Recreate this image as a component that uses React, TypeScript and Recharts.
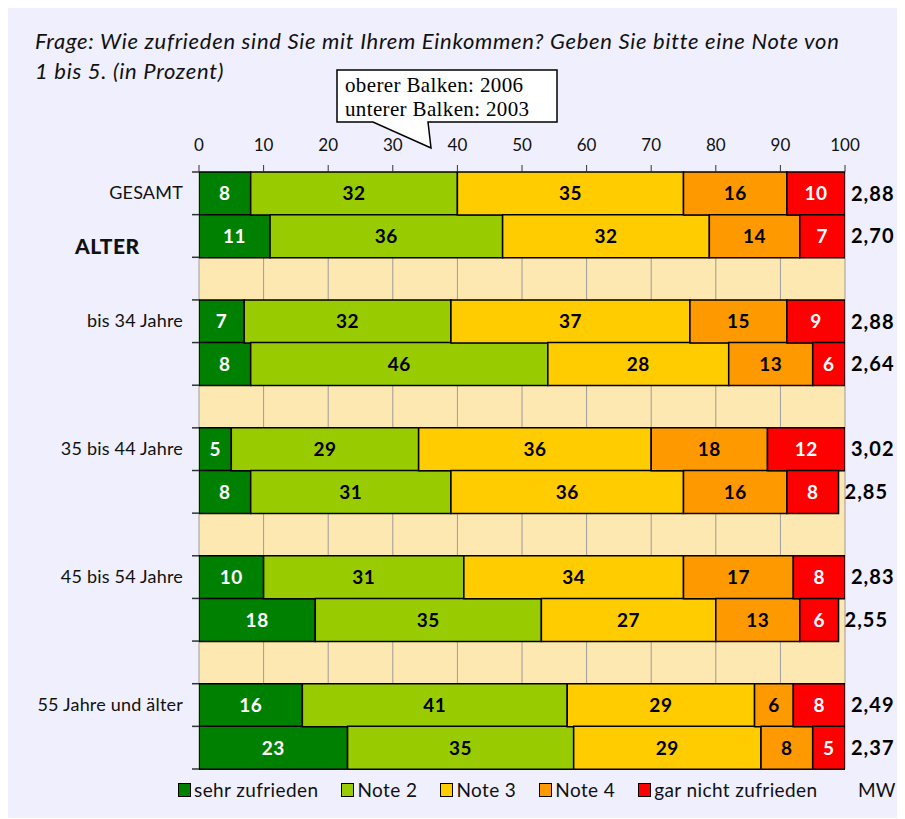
import { BarChart, Bar, XAxis, YAxis, CartesianGrid, LabelList } from 'recharts';

// rows: each group = 2006 bar, 2003 bar, then an empty spacer row
const rowIds = ['g06', 'g03', 's1', 'a06', 'a03', 's2', 'b06', 'b03', 's3', 'c06', 'c03', 's4', 'd06', 'd03'];
const rowLabels = ['GESAMT', 'ALTER', '', 'bis 34 Jahre', '', '', '35 bis 44 Jahre', '', '', '45 bis 54 Jahre', '', '', '55 Jahre und älter', ''];

const sehrZufrieden = [8, 11, null, 7, 8, null, 5, 8, null, 10, 18, null, 16, 23];
const note2 = [32, 36, null, 32, 46, null, 29, 31, null, 31, 35, null, 41, 35];
const note3 = [35, 32, null, 37, 28, null, 36, 36, null, 34, 27, null, 29, 29];
const note4 = [16, 14, null, 15, 13, null, 18, 16, null, 17, 13, null, 6, 8];
const garNicht = [10, 7, null, 9, 6, null, 12, 8, null, 8, 6, null, 8, 5];
const mw = ['2,88', '2,70', null, '2,88', '2,64', null, '3,02', '2,85', null, '2,83', '2,55', null, '2,49', '2,37'];

const xTicks = [0, 10, 20, 30, 40, 50, 60, 70, 80, 90, 100];

const series = [
  { key: 'n1', name: 'sehr zufrieden', color: '#008000', text: '#ffffff' },
  { key: 'n2', name: 'Note 2', color: '#99cc00', text: '#000000' },
  { key: 'n3', name: 'Note 3', color: '#ffcc00', text: '#000000' },
  { key: 'n4', name: 'Note 4', color: '#ff9900', text: '#000000' },
  { key: 'n5', name: 'gar nicht zufrieden', color: '#ff0000', text: '#ffffff' },
];

const data = rowIds.map((id, i) => ({
  id,
  n1: sehrZufrieden[i],
  n2: note2[i],
  n3: note3[i],
  n4: note4[i],
  n5: garNicht[i],
  mw: mw[i],
}));

const FONT = 'Lato, "Open Sans", sans-serif';
const W = 897;
const H = 810;
const PLOT_TOP = 164;
const PLOT_BOTTOM = 761;
const PLOT_LEFT = 191;
const BAND = (PLOT_BOTTOM - PLOT_TOP) / rowIds.length;

function RowTick(props: any) {
  const { y, payload, index } = props;
  const i = rowIds.indexOf(payload.value);
  const label = rowLabels[i];
  const isHeader = label === 'ALTER';
  const x = PLOT_LEFT;
  return (
    <g>
      {index === 0 && <line x1={x - 7} x2={x} y1={y - BAND / 2} y2={y - BAND / 2} stroke="#333" strokeWidth={1.5} />}
      <line x1={x - 7} x2={x} y1={y + BAND / 2} y2={y + BAND / 2} stroke="#333" strokeWidth={1.5} />
      {label && (
        <text
          x={isHeader ? 67 : x - 16}
          y={isHeader ? y + 12 : y}
          dy={6}
          textAnchor={isHeader ? 'start' : 'end'}
          fontFamily={FONT}
          fontSize={isHeader ? 21 : 18}
          fontWeight={isHeader ? 900 : 400}
          letterSpacing={isHeader ? 0.5 : 0.2}
          fill="#111"
        >
          {label}
        </text>
      )}
    </g>
  );
}

export default function App() {
  return (
    <div style={{ position: 'relative', width: W, height: H, background: '#efeffd', fontFamily: FONT }}>
      <div
        style={{
          position: 'absolute',
          left: 27,
          top: 18,
          width: 870,
          fontSize: 22,
          lineHeight: '30px',
          letterSpacing: 0.7,
          fontStyle: 'italic',
          color: '#111',
          whiteSpace: 'nowrap',
        }}
      >
        Frage: Wie zufrieden sind Sie mit Ihrem Einkommen? Geben Sie bitte eine Note von
        <br />
        1 bis 5. (in Prozent)
      </div>

      <BarChart
        width={W}
        height={H}
        data={data}
        layout="vertical"
        barCategoryGap={0}
        margin={{ top: 134, right: 60, bottom: H - PLOT_BOTTOM, left: 0 }}
        style={{ position: 'absolute', left: 0, top: 0 }}
      >
        <CartesianGrid horizontal={false} vertical fill="#fee8b2" stroke="#9c9c9c" fillOpacity={1} />
        <XAxis
          type="number"
          orientation="top"
          domain={[0, 100]}
          ticks={xTicks}
          allowDataOverflow
          height={30}
          axisLine={false}
          tickSize={7}
          tickMargin={14}
          tickLine={{ stroke: '#333' }}
          tick={{ fontSize: 17, fill: '#111', fontFamily: FONT }}
        />
        <YAxis
          type="category"
          dataKey="id"
          width={PLOT_LEFT}
          axisLine={false}
          tickLine={false}
          tickSize={0}
          tickMargin={0}
          interval={0}
          tick={<RowTick />}
        />
        {series.map((s, si) => (
          <Bar
            key={s.key}
            dataKey={s.key}
            name={s.name}
            stackId="a"
            fill={s.color}
            stroke="#000"
            strokeWidth={1.5}
            isAnimationActive={false}
          >
            <LabelList
              dataKey={s.key}
              position="center"
              fill={s.text}
              fontSize={19}
              fontWeight={700}
              fontFamily={FONT}
              letterSpacing={0.5}
            />
            {si === series.length - 1 && (
              <LabelList
                dataKey="mw"
                position="right"
                offset={6}
                fill="#000"
                fontSize={20}
                fontWeight={700}
                fontFamily={FONT}
                letterSpacing={1}
              />
            )}
          </Bar>
        ))}
      </BarChart>

      <svg width={W} height={H} style={{ position: 'absolute', left: 0, top: 0, pointerEvents: 'none' }}>
        <path d="M329,62 H549 V114 H420 L423,140 L365,114 H329 Z" fill="#fff" stroke="#000" strokeWidth={1.5} />
        <text x={337} y={84} fontFamily='"Liberation Serif", serif' fontSize={21} fill="#000" textLength={178}>
          oberer Balken: 2006
        </text>
        <text x={337} y={108} fontFamily='"Liberation Serif", serif' fontSize={21} fill="#000" textLength={184}>
          unterer Balken: 2003
        </text>
      </svg>

      <div
        style={{
          position: 'absolute',
          left: 170,
          top: 770,
          display: 'flex',
          alignItems: 'center',
          gap: 23,
          fontSize: 19,
          letterSpacing: 0.4,
          color: '#111',
        }}
      >
        {series.map((s) => (
          <div key={s.key} style={{ display: 'flex', alignItems: 'center', gap: 3 }}>
            <span
              style={{
                display: 'inline-block',
                width: 11,
                height: 12,
                background: s.color,
                border: '1.5px solid #000',
              }}
            />
            <span>{s.name}</span>
          </div>
        ))}
      </div>
      <div style={{ position: 'absolute', left: 850, top: 770, fontSize: 19, color: '#111' }}>MW</div>
    </div>
  );
}
